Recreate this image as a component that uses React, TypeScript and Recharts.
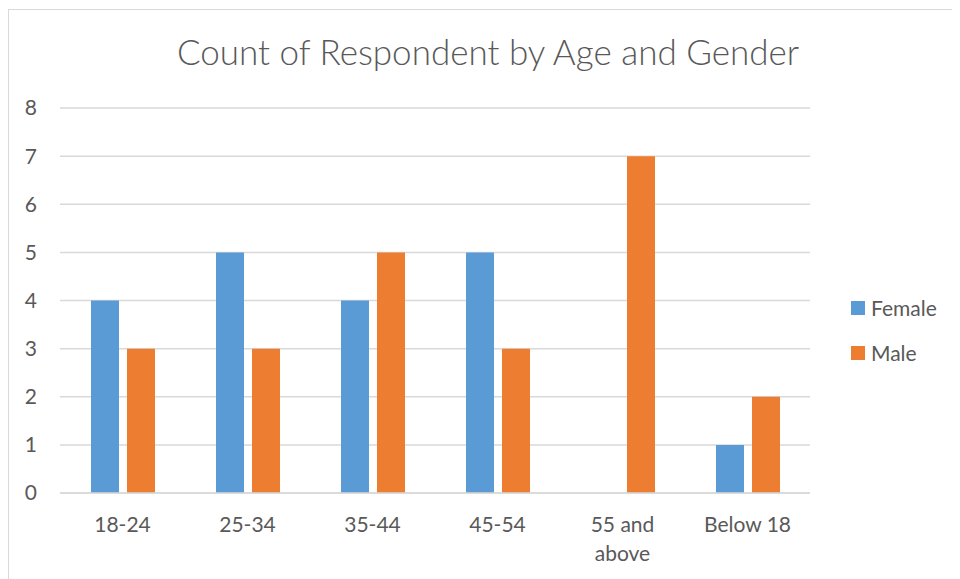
import { BarChart, Bar, XAxis, YAxis, CartesianGrid, Legend } from 'recharts'

const categories = ['18-24', '25-34', '35-44', '45-54', '55 and above', 'Below 18']
const female = [4, 5, 4, 5, 0, 1]
const male = [3, 3, 5, 3, 7, 2]
const yTicks = [0, 1, 2, 3, 4, 5, 6, 7, 8]

const data = categories.map((age, i) => ({ age, Female: female[i], Male: male[i] }))

const FONT = 'Lato, "Open Sans", sans-serif'
const GREY = '#595959'

// wrap long category names the way Excel does (roughly 8 chars per line)
function wrapLabel(label: string, max = 8) {
  const lines: string[] = []
  let cur = ''
  for (const w of label.split(' ')) {
    const next = cur ? cur + ' ' + w : w
    if (next.length > max && cur) {
      lines.push(cur)
      cur = w
    } else {
      cur = next
    }
  }
  if (cur) lines.push(cur)
  return lines
}

function AgeTick({ x, y, payload }: any) {
  const lines = wrapLabel(String(payload.value))
  return (
    <text
      x={x}
      y={y}
      textAnchor="middle"
      fill={GREY}
      fontSize={21}
      fontFamily={FONT}
    >
      {lines.map((l, i) => (
        <tspan key={i} x={x} dy={i === 0 ? '0.71em' : 29}>
          {l}
        </tspan>
      ))}
    </text>
  )
}

function LegendBox() {
  const items = [
    { name: 'Female', color: '#5B9BD5' },
    { name: 'Male', color: '#ED7D31' },
  ]
  return (
    <div style={{ fontFamily: FONT, fontSize: 21, color: GREY }}>
      {items.map((it) => (
        <div key={it.name} style={{ display: 'flex', alignItems: 'center', height: 45 }}>
          <span style={{ width: 14, height: 14, background: it.color, marginRight: 6 }} />
          {it.name}
        </div>
      ))}
    </div>
  )
}

export default function App() {
  return (
    <div
      style={{
        position: 'relative',
        marginTop: 1,
        width: 951,
        height: 569,
        borderTop: '1px solid #D9D9D9',
        borderLeft: '1px solid #D9D9D9',
        background: '#fff',
      }}
    >
      <div
        style={{
          position: 'absolute',
          left: 0,
          top: 20,
          width: 958,
          textAlign: 'center',
          fontFamily: FONT,
          fontWeight: 300,
          fontSize: 35,
          lineHeight: '42px',
          color: GREY,
        }}
      >
        Count of Respondent by Age and Gender
      </div>
      <BarChart
        width={951}
        height={569}
        data={data}
        margin={{ top: 98, right: 150, bottom: 26, left: 0 }}
        barSize={28}
        barGap={8}
      >
        <CartesianGrid vertical={false} stroke="#D9D9D9" strokeWidth={1.5} />
        <XAxis
          dataKey="age"
          height={60}
          axisLine={{ stroke: '#D9D9D9', strokeWidth: 1.5 }}
          tickLine={false}
          tickSize={0}
          tickMargin={24}
          interval={0}
          tick={(props: any) => <AgeTick {...props} />}
        />
        <YAxis
          width={51}
          domain={[0, 8]}
          ticks={yTicks}
          axisLine={false}
          tickLine={false}
          tickSize={0}
          tickMargin={23}
          tick={{ fill: GREY, fontSize: 21, fontFamily: FONT }}
        />
        <Legend
          layout="horizontal"
          align="center"
          verticalAlign="middle"
          wrapperStyle={{ left: 842, top: 275, width: 110 }}
          content={<LegendBox />}
        />
        <Bar dataKey="Female" fill="#5B9BD5" isAnimationActive={false} />
        <Bar dataKey="Male" fill="#ED7D31" isAnimationActive={false} />
      </BarChart>
    </div>
  )
}
